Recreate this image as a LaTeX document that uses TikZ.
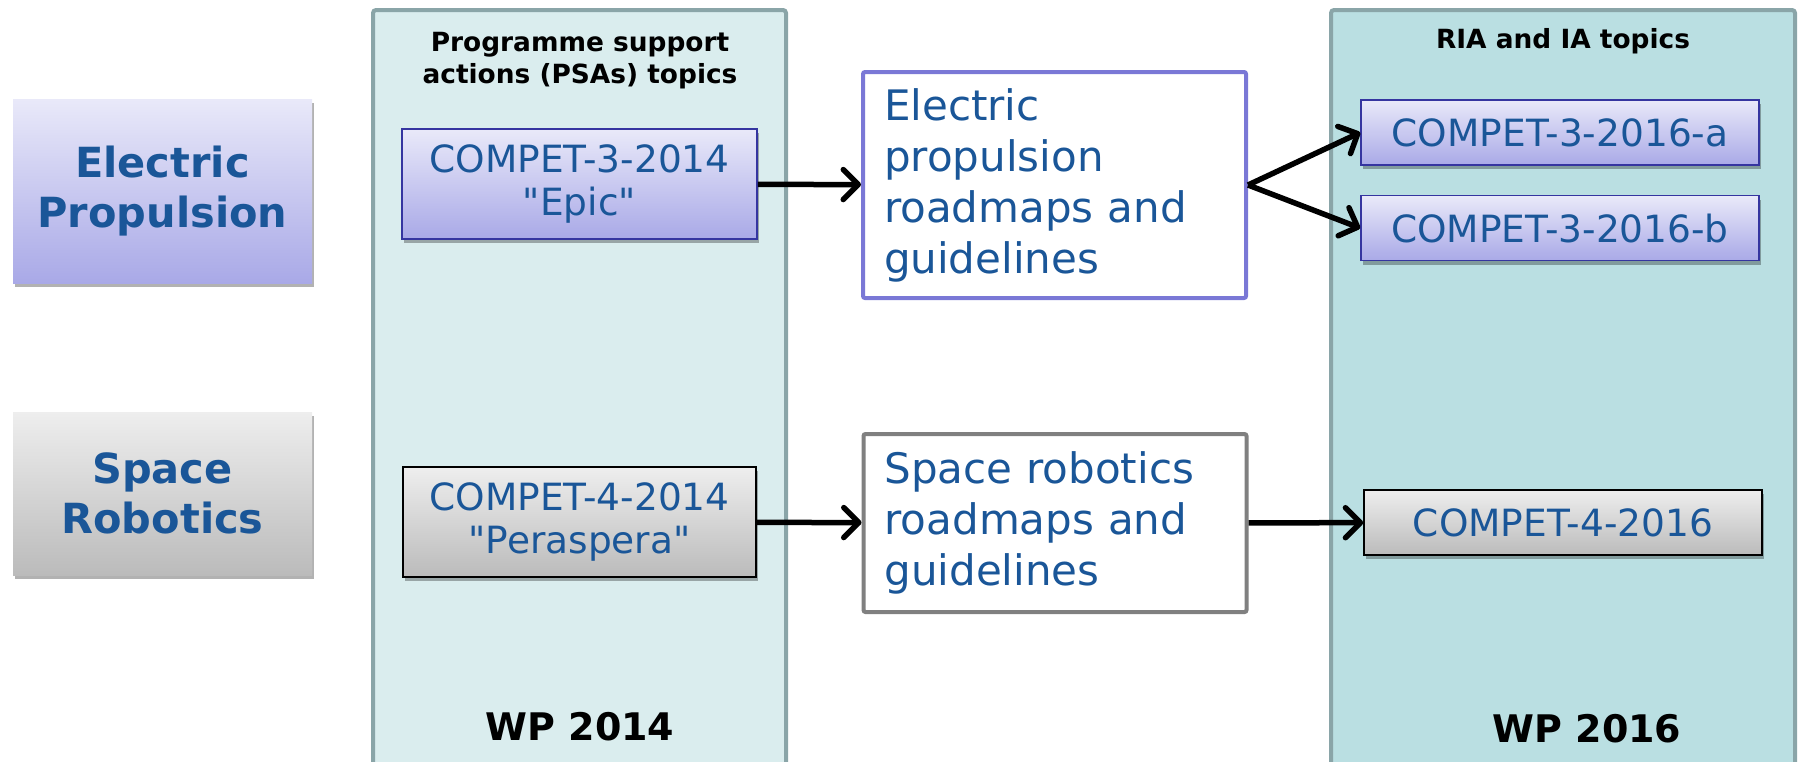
\documentclass[tikz,border=0pt]{standalone}
\usepackage{fontspec}
\setmainfont{DejaVu Sans}[Ligatures=TeXOff]
\usetikzlibrary{arrows.meta,shadows,positioning}

\definecolor{txtblue}{HTML}{1A5698}
\definecolor{colline}{HTML}{8AA5A8}
\definecolor{leftfill}{HTML}{DAEDEE}
\definecolor{rightfill}{HTML}{BADFE2}
\definecolor{lavtop}{HTML}{E9E9F9}
\definecolor{lavbot}{HTML}{A9A9E7}
\definecolor{lavline}{HTML}{3535A0}
\definecolor{roadline}{HTML}{7A78D6}
\definecolor{greytop}{HTML}{EEEEEE}
\definecolor{greybot}{HTML}{BBBBBB}

\newcommand\domfont{\fontsize{41.5}{50}\selectfont\bfseries}
\newcommand\topicfont{\fontsize{37.5}{43}\selectfont}
\newcommand\roadfont{\fontsize{42}{51}\selectfont}
\newcommand\headfont{\fontsize{26.4}{32}\selectfont\bfseries}
\newcommand\wpfont{\fontsize{38}{44}\selectfont\bfseries}

\begin{document}
\begin{tikzpicture}[x=1pt, y=-1pt, thick,
        col/.style = {draw=colline, line width=4pt, rounded corners=3pt, inner sep=0pt, minimum height=765pt},
        shad/.style = {drop shadow={shadow xshift=2pt, shadow yshift=-4pt, opacity=.3, fill=black}},
        fieldbox/.style = {shad, inner sep=0pt, minimum width=299pt, font=\domfont, text=txtblue, align=center},
        topic/.style = {shad, line width=1.6pt, inner sep=0pt, minimum height=65pt, minimum width=398pt, font=\topicfont, text=txtblue, align=center},
        epcol/.style = {top color=lavtop, bottom color=lavbot, draw=lavline},
        srcol/.style = {top color=greytop, bottom color=greybot, draw=black},
        road/.style = {draw, line width=4pt, rounded corners=2pt, fill=white, text width=341pt, inner xsep=21pt, inner ysep=0pt, font=\roadfont, text=txtblue, align=left},
        headtxt/.style = {font=\headfont, align=center},
        arr/.style = {-{Straight Barb[length=15pt, width=30pt, round]}, line width=5.5pt}]
                \useasboundingbox (0,0) rectangle (1798,761);

                \node[col, fill=leftfill, minimum width=413pt] (wp14) at (579.5,392.5) {};
                \node[col, fill=rightfill, minimum width=464pt] (wp16) at (1563,392.5) {};

                \node[headtxt] (psa) at (580,61) {Programme support\\actions (PSAs) topics};
                \node[headtxt, anchor=base] (ria) at (1563,48) {RIA and IA topics};
                \node[font=\wpfont, anchor=base] (y14) at (580,740) {WP 2014};
                \node[font=\wpfont, anchor=base] (y16) at (1587,742) {WP 2016};

                \node[fieldbox, top color=lavtop, bottom color=lavbot, minimum height=184pt] (ep) at (162.5,191) {Electric\\Propulsion};
                \node[fieldbox, top color=greytop, bottom color=greybot, minimum height=163pt] (sr) at (162.5,493.5) {Space\\Robotics};

                \node[topic, epcol, minimum width=355pt, minimum height=110pt] (c314) at (579.5,184) {COMPET-3-2014\\"Epic"};
                \node[topic, srcol, minimum width=353pt, minimum height=110pt] (c414) at (579.5,522) {COMPET-4-2014\\"Peraspera"};

                \node[road, draw=roadline, minimum height=226pt] (eproad) at (1054.5,185) {Electric\\propulsion\\roadmaps and\\guidelines};
                \node[road, draw=black!50, minimum height=178pt] (srroad) at (1055,523) {Space robotics\\roadmaps and\\guidelines};

                \node[topic, epcol] (c316a) at (1560,132.5) {COMPET-3-2016-a};
                \node[topic, epcol, below=29pt of c316a] (c316b) {COMPET-3-2016-b};
                \node[topic, srcol] (c416) at (1563,522.5) {COMPET-4-2016};

                \draw[arr] (c314) -- (eproad);
                \draw[arr] (eproad.east) -- (c316a.west);
                \draw[arr] (eproad.east) -- (c316b.west);
                \draw[arr] (c414) -- (srroad);
                \draw[arr] (srroad) -- (c416);
            \end{tikzpicture}
\end{document}
